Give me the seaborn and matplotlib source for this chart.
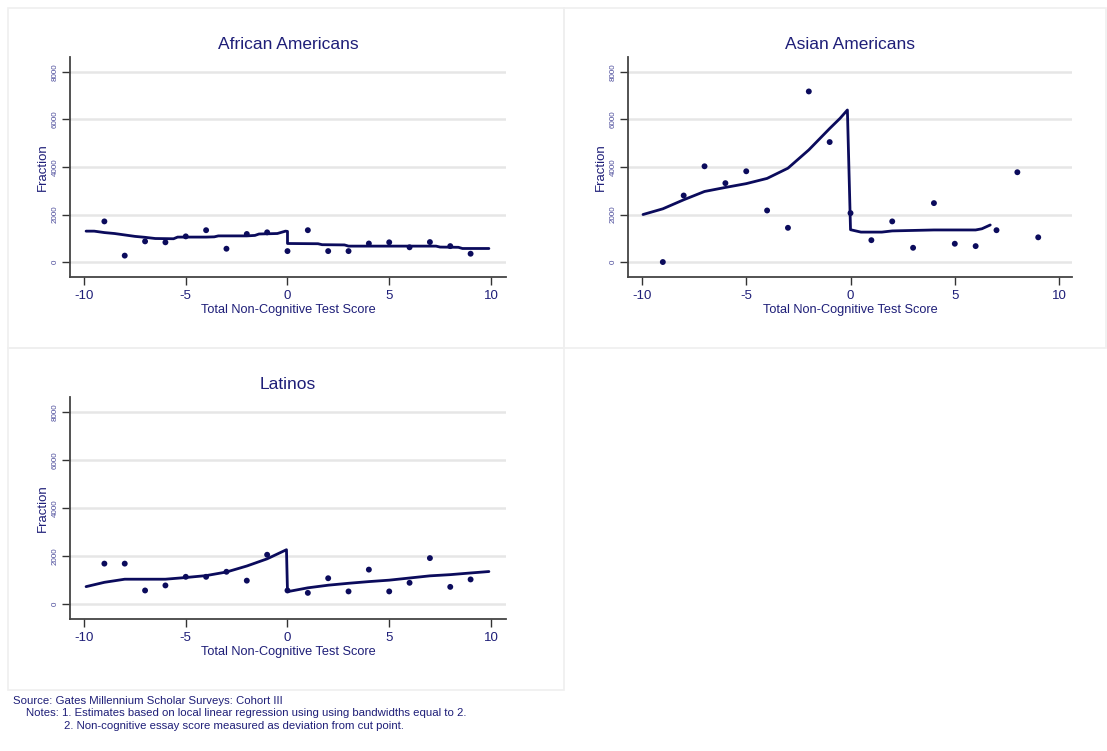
import matplotlib
matplotlib.use("Agg")
import matplotlib.pyplot as plt
from matplotlib.patches import Rectangle
import pandas as pd
import seaborn as sns

# binned points (score, count)
score = [-9, -8, -7, -6, -5, -4, -3, -2, -1, 0, 1, 2, 3, 4, 5, 6, 7, 8, 9]
aa_pts = [1710, 270, 870, 830, 1080, 1340, 560, 1180, 1250, 460, 1340, 460, 460, 780, 830, 620, 840, 670, 350]
as_pts = [0, 2800, 4030, 3320, 3820, 2170, 1440, 7180, 5050, 2060, 920, 1710, 600, 2480, 770, 670, 1340, 3780, 1040]
la_pts = [1680, 1680, 560, 770, 1130, 1130, 1340, 970, 2050, 560, 460, 1070, 520, 1430, 520, 880, 1910, 710, 1020]

# local linear fits
aa_fx = [-9.9, -9.5, -9, -8.5, -8, -7.5, -7, -6.5, -5.6, -5.4, -4, -3.6, -3.4, -2, -1.6, -1.4, -0.5, -0.1, 0,
         0, 1.5, 1.7, 2.8, 3.0, 7.3, 7.5, 8.4, 8.6, 9.9]
aa_fy = [1300, 1300, 1240, 1200, 1140, 1080, 1040, 990, 980, 1050, 1050, 1060, 1100, 1100, 1120, 1180, 1200, 1300, 1290,
         780, 770, 730, 720, 670, 670, 630, 620, 570, 570]
as_fx = [-9.95, -9, -8, -7, -6, -5, -4, -3, -2, -1, -0.5, -0.15, 0, 0.5, 1.5, 2, 3, 4, 5, 6, 6.3, 6.7]
as_fy = [2000, 2240, 2620, 2970, 3140, 3300, 3520, 3950, 4720, 5620, 6050, 6400, 1360, 1260, 1260, 1310, 1330, 1350, 1350, 1350, 1400, 1560]
la_fx = [-9.9, -9, -8, -7, -6, -5, -4, -3, -2, -1, -0.05, 0, 1, 2, 3, 4, 5, 6, 7, 8, 9, 9.9]
la_fy = [720, 900, 1030, 1030, 1030, 1100, 1180, 1330, 1580, 1880, 2260, 510, 670, 780, 860, 930, 990, 1080, 1170, 1220, 1290, 1350]

titles = ["African Americans", "Asian Americans", "Latinos"]
yticks = [0, 2000, 4000, 6000, 8000]
xticks = [-10, -5, 0, 5, 10]

navy = "#0b0b5c"
txt = "#1e1e78"

sns.set_style("white")
plt.rcParams["font.family"] = ["Liberation Sans", "DejaVu Sans"]
plt.rcParams["axes.unicode_minus"] = False

fig = plt.figure(figsize=(11.07, 7.51), dpi=100)
W, H = 1107, 751


def px_axes(l, t, r, b):
    return fig.add_axes([l / W, 1 - b / H, (r - l) / W, (b - t) / H])


# light panel frames
for (l, t, r, b) in [(8, 8, 564, 348), (564, 8, 1106, 348), (8, 348, 564, 690)]:
    fig.add_artist(Rectangle((l / W, 1 - b / H), (r - l) / W, (b - t) / H,
                             transform=fig.transFigure, fill=False, ec="#efefef", lw=1.2))

boxes = [(70, 57, 506, 277), (628, 57, 1072, 277), (70, 397, 506, 619)]
xlims = [(-10.69, 10.74), (-10.67, 10.62), (-10.69, 10.74)]
pts = [aa_pts, as_pts, la_pts]
fits = [(aa_fx, aa_fy), (as_fx, as_fy), (la_fx, la_fy)]

for i in range(3):
    ax = px_axes(*boxes[i])
    for y in yticks:
        ax.axhline(y, color="#e6e6e6", lw=1.8, zorder=0)
    fx, fy = fits[i]
    fit = pd.DataFrame({"x": fx, "y": fy})
    ax.plot(fit["x"], fit["y"], color=navy, lw=2.0, zorder=2)
    d = pd.DataFrame({"score": score, "n": pts[i]})
    sns.scatterplot(data=d, x="score", y="n", ax=ax, color=navy, s=18, edgecolor="none", zorder=3)
    ax.set_xlim(*xlims[i])
    ax.set_ylim(-630, 8630)
    ax.set_xticks(xticks)
    ax.set_yticks(yticks)
    ax.set_yticklabels([str(v) for v in yticks], rotation=90, va="center", fontsize=5.8, color="#4a4a9a")
    ax.tick_params(axis="x", labelsize=9.5, labelcolor=txt, length=6, width=1, color="#333333", direction="out")
    ax.tick_params(axis="y", length=6, width=1, color="#333333", direction="out", pad=2)
    ax.tick_params(bottom=True, left=True)
    for s in ["top", "right"]:
        ax.spines[s].set_visible(False)
    for s in ["left", "bottom"]:
        ax.spines[s].set_color("#444444")
        ax.spines[s].set_linewidth(1.3)
    ax.set_xlabel("Total Non-Cognitive Test Score", fontsize=9.2, color=txt, labelpad=1)
    ax.set_ylabel("Fraction", fontsize=9.5, color=txt, labelpad=2)
    ax.set_title(titles[i], fontsize=12.5, color=txt, pad=6)

fig.text(13 / W, 1 - 701 / H, "Source: Gates Millennium Scholar Surveys: Cohort III", fontsize=8.2, color=txt, va="center")
fig.text(26 / W, 1 - 713 / H, "Notes: 1. Estimates based on local linear regression using using bandwidths equal to 2.",
         fontsize=8.2, color=txt, va="center")
fig.text(64 / W, 1 - 726 / H, "2. Non-cognitive essay score measured as deviation from cut point.",
         fontsize=8.2, color=txt, va="center")

fig.savefig("out.png", dpi=100, facecolor="white")
